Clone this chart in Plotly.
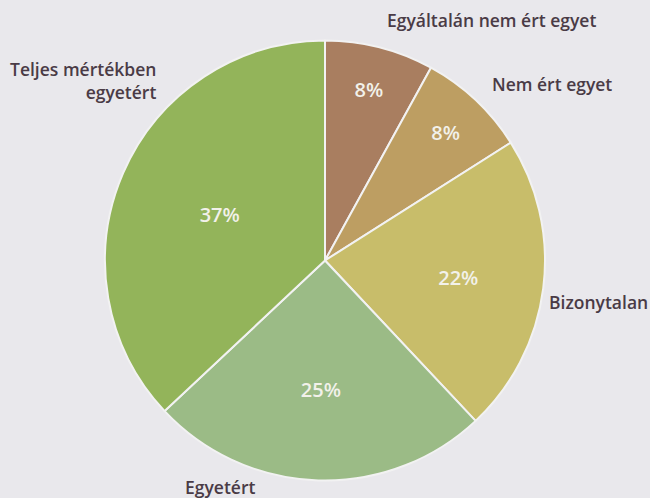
import plotly.graph_objects as go

categories = ["Egyáltalán nem ért egyet", "Nem ért egyet", "Bizonytalan", "Egyetért", "Teljes mértékben egyetért"]
values = [8, 8, 22, 25, 37]
pct_labels = ["8%", "8%", "22%", "25%", "37%"]
colors = ["#a97e60", "#bd9e62", "#c8bd6a", "#9bbb86", "#93b45a"]

W, H = 650, 498
bg = "#e9e8ec"

fig = go.Figure(go.Pie(
    labels=categories,
    values=values,
    text=pct_labels,
    textinfo="text",
    textposition="inside",
    insidetextorientation="horizontal",
    sort=False,
    direction="clockwise",
    rotation=0,
    marker=dict(colors=colors, line=dict(color="#f2f2f2", width=2)),
    textfont=dict(family="Open Sans, sans-serif", size=20, color="#f2f1ea", weight=600),
    domain=dict(x=[105 / W, 545 / W], y=[1 - 483 / H, 1 - 38 / H]),
    showlegend=False,
    hoverinfo="label+percent",
))

lab_font = dict(family="Open Sans, sans-serif", size=17.5, color="#4a3b46", weight=600)

def ann(text, x, y, xanchor="center"):
    fig.add_annotation(text=text, x=x / W, y=1 - y / H, xref="paper", yref="paper",
                       showarrow=False, xanchor=xanchor, yanchor="middle",
                       font=lab_font, align="right" if xanchor == "right" else "center")

ann(categories[0], 491, 20)
ann(categories[1], 552, 84)
ann(categories[2], 650, 302, xanchor="right")
ann(categories[3], 220, 487)
ann("Teljes mértékben<br>egyetért", 158, 80, xanchor="right")

fig.update_layout(
    width=W, height=H,
    margin=dict(l=0, r=0, t=0, b=0),
    paper_bgcolor=bg, plot_bgcolor=bg,
)

fig.write_html("out.html", config={"displayModeBar": False},
               post_script="document.body.style.margin='0';document.body.style.background='%s';" % bg)
